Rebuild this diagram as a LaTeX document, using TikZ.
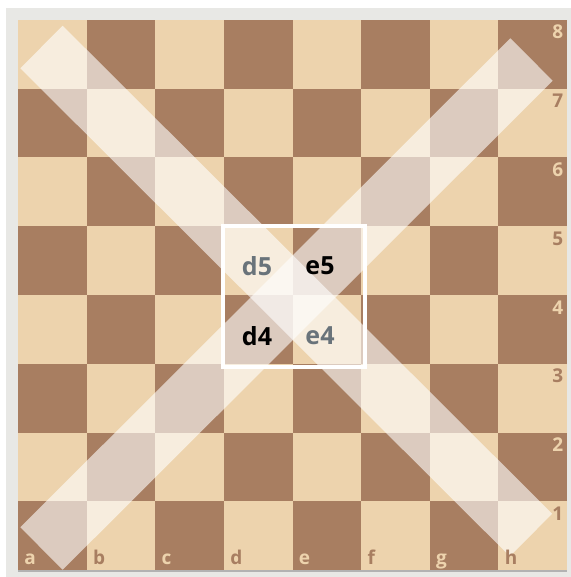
\documentclass[tikz,border=0pt]{standalone}
\usepackage{fontspec}
\setmainfont{Open Sans}
\definecolor{sqlight}{RGB}{237,211,173}
\definecolor{sqdark}{RGB}{168,126,97}
\definecolor{framegray}{RGB}{232,232,229}
\definecolor{slate}{RGB}{105,115,122}
\begin{document}
\begin{tikzpicture}[x=0.5pt, y=-0.5pt,
  edgelbl/.style={font=\bfseries\fontsize{9.5}{9.5}\selectfont, inner sep=0pt},
  sqname/.style={font=\bfseries\fontsize{12.5}{12.5}\selectfont, inner sep=0pt},
  band/.style={draw=white, line width=30pt, draw opacity=0.6}]
\useasboundingbox (0,0) rectangle (571,577);
\fill[framegray] (6,8) rectangle (571,577);
\fill[black!30] (18,569) rectangle (567,572);
% board
\fill[sqlight] (18,20) rectangle (567,570);
\foreach \f in {0,...,7}
  \foreach \r in {0,...,7}{
    \ifodd\numexpr\f+\r\relax
      \fill[sqdark] ({18+\f*68.625},{20+\r*68.75}) rectangle ++(68.625,68.75);
    \fi
  }
% diagonals
\coordinate (a8end) at (41.5,47);
\coordinate (h1end) at (531,535);
\coordinate (a1end) at (41.5,548.5);
\coordinate (h8end) at (531.5,59.5);
\draw[band] (a8end) -- (h1end);
\draw[band] (a1end) -- (h8end);
% centre squares
\draw[white, line width=1.6pt] (223,226) rectangle (365,367);
\node[sqname, text=slate] (d5) at (257,266) {d5};
\node[sqname] (e5) at (320,266) {e5};
\node[sqname] (d4) at (257,336) {d4};
\node[sqname, text=slate] (e4) at (320,336) {e4};
% files and ranks
\foreach \l [count=\i from 0] in {a,b,c,d,e,f,g,h}{
  \ifodd\i \def\lblcol{sqdark}\else \def\lblcol{sqlight}\fi
  \node[edgelbl, text=\lblcol, anchor=base west] (file-\l) at ({24+\i*68.625},564) {\l};
}
\foreach \n [count=\j from 0] in {8,7,6,5,4,3,2,1}{
  \ifodd\j \def\lblcol{sqdark}\else \def\lblcol{sqlight}\fi
  \node[edgelbl, text=\lblcol, anchor=base east] (rank-\n) at (563.5,{39+\j*68.75}) {\n};
}
\end{tikzpicture}
\end{document}
